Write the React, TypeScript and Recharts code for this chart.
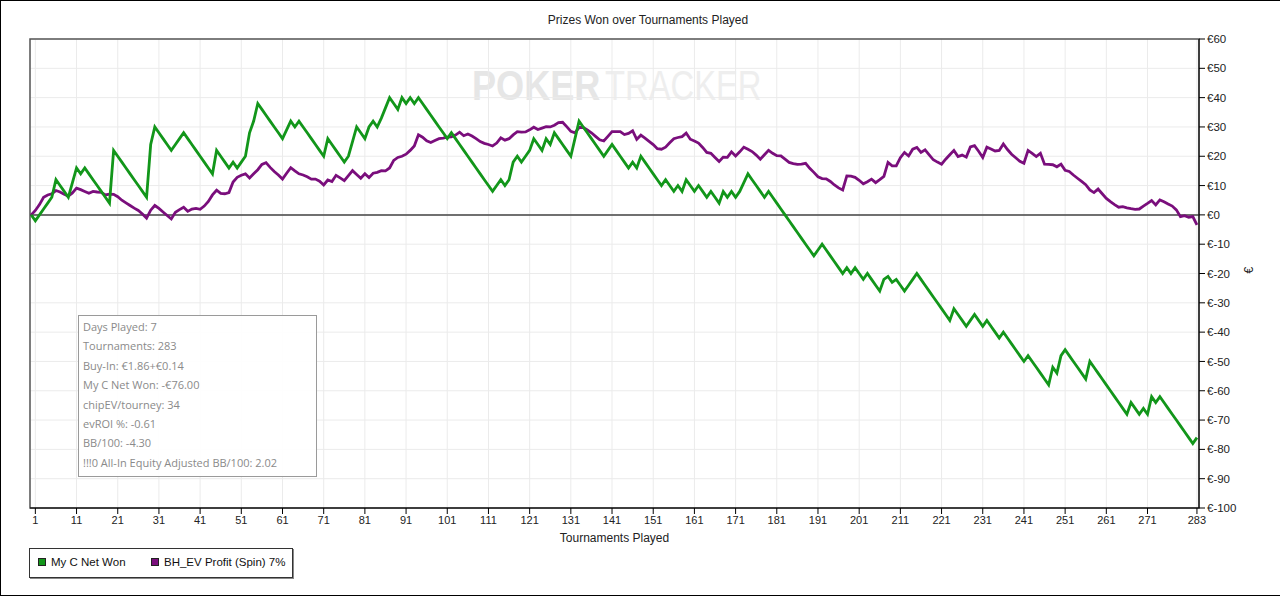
import React from "react";
import {
  CartesianGrid,
  Line,
  LineChart,
  ReferenceArea,
  ReferenceLine,
  XAxis,
  YAxis,
} from "recharts";

// cumulative net won after each tournament (index = tournaments played)
const myCNetWon = [
  0, -2, 0, 2, 4, 6, 12, 10, 8, 6,
  11, 16, 14, 16, 14, 12, 10, 8, 6, 4,
  22, 20, 18, 16, 14, 12, 10, 8, 6, 24,
  30, 28, 26, 24, 22, 24, 26, 28, 26, 24,
  22, 20, 18, 16, 14, 22, 20, 18, 16, 18,
  16, 18, 20, 28, 32, 38, 36, 34, 32, 30,
  28, 26, 29, 32, 30, 32, 30, 28, 26, 24,
  22, 20, 26, 24, 22, 20, 18, 20, 25, 30,
  28, 26, 30, 32, 30, 33, 36.5, 40, 38, 36,
  40, 38, 40, 38, 40, 38, 36, 34, 32, 30,
  28, 26, 28, 26, 24, 22, 20, 18, 16, 14,
  12, 10, 8, 10, 12, 10, 12, 18, 20, 18,
  20, 22, 26, 24, 22, 26, 24, 28, 26, 24,
  22, 20, 26, 32, 30, 28, 26, 24, 22, 20,
  22, 24, 22, 20, 18, 16, 18, 16, 20, 18,
  16, 14, 12, 10, 12, 10, 8, 10, 8, 12,
  10, 8, 10, 8, 6, 8, 6, 4, 8, 6,
  8, 6, 8, 11, 14, 12, 10, 8, 6, 8,
  6, 4, 2, 0, -2, -4, -6, -8, -10, -12,
  -14, -12, -10, -12, -14, -16, -18, -20, -18, -20,
  -18, -20, -22, -20, -22, -24, -26, -22, -21, -23,
  -22, -24, -26, -24, -22, -20, -22, -24, -26, -28,
  -30, -32, -34, -36, -32, -34, -36, -38, -36, -34,
  -36, -38, -36, -38, -40, -42, -40, -42, -44, -46,
  -48, -50, -48, -50, -52, -54, -56, -58, -52, -54,
  -48, -46, -48, -50, -52, -54, -56, -50, -52, -54,
  -56, -58, -60, -62, -64, -66, -68, -64, -66, -68,
  -66, -68, -62, -64, -62, -64, -66, -68, -70, -72,
  -74, -76, -78, -76,
];

// all-in EV profit after each tournament
const bhEvProfit = [
  0, 1.5, 3.5, 6, 6.8, 7.2, 8.3, 7.8, 7, 6.4,
  7.5, 9.1, 8.6, 8, 7.4, 8, 7.8, 7.7, 6.8, 7.1,
  7, 6.2, 5, 4.1, 3.2, 2.3, 1.5, 0.3, -1.1, 1.6,
  3.2, 2.2, 1, -0.2, -1.4, 0.9, 1.8, 2.6, 1.2, 2,
  2.2, 1.9, 3, 4.6, 6.8, 8.4, 7.3, 7.2, 7.6, 11.2,
  12.8, 13.5, 14, 12.6, 14, 15.4, 17.2, 17.8, 16.2, 14.8,
  13.6, 12.2, 14.2, 16.1, 15, 14, 13.6, 13, 12.2, 12.2,
  11.5, 10.2, 11.9, 11.4, 13.5, 12.6, 11.7, 13.4, 15.1, 13.8,
  12.5, 14, 12.7, 14.2, 14.5, 15.1, 15, 16, 18.6, 19.6,
  20, 20.7, 22, 23.5, 27.3, 26.5, 25.3, 24.7, 25.4, 26,
  26.2, 26.5, 26.6, 27.2, 28.2, 27, 27.6, 26.9, 26, 25,
  24.4, 24, 23.5, 24.5, 26.3, 25.5, 26, 27.3, 28.4, 28.2,
  28.3, 29, 29.9, 29.1, 29.6, 30.1, 30, 30.6, 31.5, 31.6,
  30.1, 28.5, 28, 29.8, 29.8, 29, 28, 26.8, 25.6, 25.2,
  26.8, 28.4, 28.4, 28.4, 27.4, 27.8, 28.7, 25.8, 27.2, 26.2,
  25.1, 24, 22.6, 22.4, 23.1, 24.6, 26, 26.4, 26.7, 27.9,
  25.8, 25.2, 24.5, 23, 21.3, 21, 19.6, 18.2, 19.7, 19.6,
  21.5, 20.1, 21.5, 23.1, 22.4, 21.6, 20.4, 19, 20.5, 22,
  21, 20.2, 20.1, 19, 17.9, 17.5, 17.2, 17.3, 17.6, 15.9,
  14.5, 13, 12.4, 12.3, 11.4, 10.2, 9.2, 8.5, 13.3, 13.2,
  12.8, 11.8, 10.6, 11.3, 12.2, 11, 12, 13.1, 17.9, 16.7,
  16.7, 19.5, 21.3, 20.1, 22.4, 23, 21.3, 22.2, 20.5, 18.8,
  18, 17.3, 19, 20.5, 22, 19.9, 20.4, 19.7, 23.2, 23.6,
  21.7, 19.6, 23.1, 22.5, 21.8, 22, 24.2, 22.3, 20.7, 19.5,
  18.3, 17.6, 22, 21, 19.9, 21, 17.3, 17.2, 17.1, 16.4,
  17.3, 15.2, 14.8, 13.6, 12.5, 11.4, 10.3, 8.5, 7.6, 8.8,
  7.2, 5.6, 4.5, 3.5, 2.6, 2.8, 2.4, 2.1, 1.9, 2,
  3, 3.9, 4.9, 3.4, 5.1, 4.5, 3.7, 3, 1.7, -0.6,
  -0.3, -0.8, -0.6, -3.4,
];

const xTicks = [
  1, 11, 21, 31, 41, 51, 61, 71, 81, 91, 101, 111, 121, 131, 141, 151, 161,
  171, 181, 191, 201, 211, 221, 231, 241, 251, 261, 271, 283,
];
const yTicks = [-100, -90, -80, -70, -60, -50, -40, -30, -20, -10, 0, 10, 20, 30, 40, 50, 60];

const statLines = [
  "Days Played: 7",
  "Tournaments: 283",
  "Buy-In: €1.86+€0.14",
  "My C Net Won: -€76.00",
  "chipEV/tourney: 34",
  "evROI %: -0.61",
  "BB/100: -4.30",
  "!!!0 All-In Equity Adjusted BB/100: 2.02",
];

const GREEN = "#12961a";
const PURPLE = "#7a0e7c";
const FONT = "'Liberation Sans', Arial, sans-serif";

const rows = myCNetWon.map((v, i) => ({ t: i, myC: v, bhEv: bhEvProfit[i] }));

function Watermark() {
  return (
    <svg
      width={1280}
      height={596}
      style={{ position: "absolute", left: 0, top: 0 }}
    >
      <text
        transform="translate(472,100) scale(0.86,1)"
        fontFamily={FONT}
        fontWeight="bold"
        fontSize={42}
        fill="#e6e6e6"
      >
        POKER
      </text>
      <text
        transform="translate(605,100) scale(0.78,1)"
        fontFamily={FONT}
        fontSize={42}
        fill="#eeeeee"
      >
        TRACKER
      </text>
    </svg>
  );
}

export default function App() {
  return (
    <div
      style={{
        position: "fixed",
        left: 0,
        top: 0,
        width: 1280,
        height: 596,
        background: "#fff",
        fontFamily: FONT,
        overflow: "hidden",
      }}
    >
      <Watermark />
      <div
        style={{
          position: "absolute",
          left: 0,
          top: 13,
          width: 1296,
          textAlign: "center",
          fontSize: 12,
          color: "#222",
        }}
      >
        Prizes Won over Tournaments Played
      </div>
      <div style={{ position: "absolute", left: 0, top: 0 }}>
        <LineChart
          width={1280}
          height={596}
          data={rows}
          margin={{ top: 39, right: 31, left: 30, bottom: 54 }}
        >
          <CartesianGrid stroke="#ebebeb" />
          <XAxis
            dataKey="t"
            type="number"
            domain={[-0.3, 283.5]}
            ticks={xTicks}
            interval={0}
            allowDataOverflow
            height={34}
            tick={{ fontSize: 11, fill: "#222", fontFamily: FONT }}
            tickLine={{ stroke: "#000" }}
            axisLine={{ stroke: "#000" }}
            label={{
              value: "Tournaments Played",
              position: "insideBottom",
              offset: 0,
              fontSize: 12,
              fill: "#222",
              fontFamily: FONT,
            }}
          />
          <YAxis
            orientation="right"
            domain={[-100, 60]}
            ticks={yTicks}
            interval={0}
            width={50}
            tickFormatter={(v) => `€${v}`}
            tick={{ fontSize: 11.5, fill: "#222", fontFamily: FONT }}
            tickLine={{ stroke: "#000" }}
            axisLine={{ stroke: "#000" }}
            label={{
              value: "€",
              angle: -90,
              position: "right",
              offset: 0,
              fontSize: 12,
              fill: "#222",
              fontFamily: FONT,
            }}
          />
          <ReferenceArea
            x1={-0.3}
            x2={283.5}
            y1={-100}
            y2={60}
            fill="none"
            stroke="#555"
            strokeWidth={1.5}
            ifOverflow="visible"
          />
          <ReferenceLine y={0} stroke="#444" strokeWidth={1.5} />
          <Line
            dataKey="bhEv"
            type="linear"
            stroke={PURPLE}
            strokeWidth={2.8}
            dot={false}
            activeDot={false}
            isAnimationActive={false}
          />
          <Line
            dataKey="myC"
            type="linear"
            stroke={GREEN}
            strokeWidth={2.8}
            dot={false}
            activeDot={false}
            isAnimationActive={false}
          />
        </LineChart>
      </div>
      <div
        style={{
          position: "absolute",
          left: 78,
          top: 315,
          width: 239,
          height: 162,
          border: "1px solid #9a9a9a",
          background: "rgba(255,255,255,0.92)",
          boxSizing: "border-box",
          padding: "1px 0 0 4px",
          fontFamily: "'Open Sans', 'Noto Sans', sans-serif",
          fontSize: 11,
          lineHeight: "19.4px",
          color: "#8a8a8a",
          whiteSpace: "nowrap",
        }}
      >
        {statLines.map((s) => (
          <div key={s}>{s}</div>
        ))}
      </div>
      <div
        style={{
          position: "absolute",
          left: 29,
          top: 548,
          width: 264,
          height: 30,
          border: "1px solid #333",
          boxShadow: "1px 1px 0 #888",
          boxSizing: "border-box",
          fontSize: 11.5,
          color: "#111",
        }}
      >
        {[
          { name: "My C Net Won", color: GREEN, left: 8 },
          { name: "BH_EV Profit (Spin) 7%", color: PURPLE, left: 121 },
        ].map((it) => (
          <div
            key={it.name}
            style={{
              position: "absolute",
              left: it.left,
              top: 7,
              display: "flex",
              alignItems: "center",
              whiteSpace: "nowrap",
            }}
          >
            <span
              style={{
                display: "inline-block",
                width: 6,
                height: 6,
                background: it.color,
                border: "1px solid #222",
                marginRight: 5,
              }}
            />
            {it.name}
          </div>
        ))}
      </div>
      <div
        style={{
          position: "absolute",
          left: 0,
          top: 0,
          width: 1280,
          height: 596,
          borderLeft: "1px solid #000",
          borderTop: "1px solid #000",
          borderBottom: "1px solid #000",
          boxSizing: "border-box",
          pointerEvents: "none",
        }}
      />
    </div>
  );
}
